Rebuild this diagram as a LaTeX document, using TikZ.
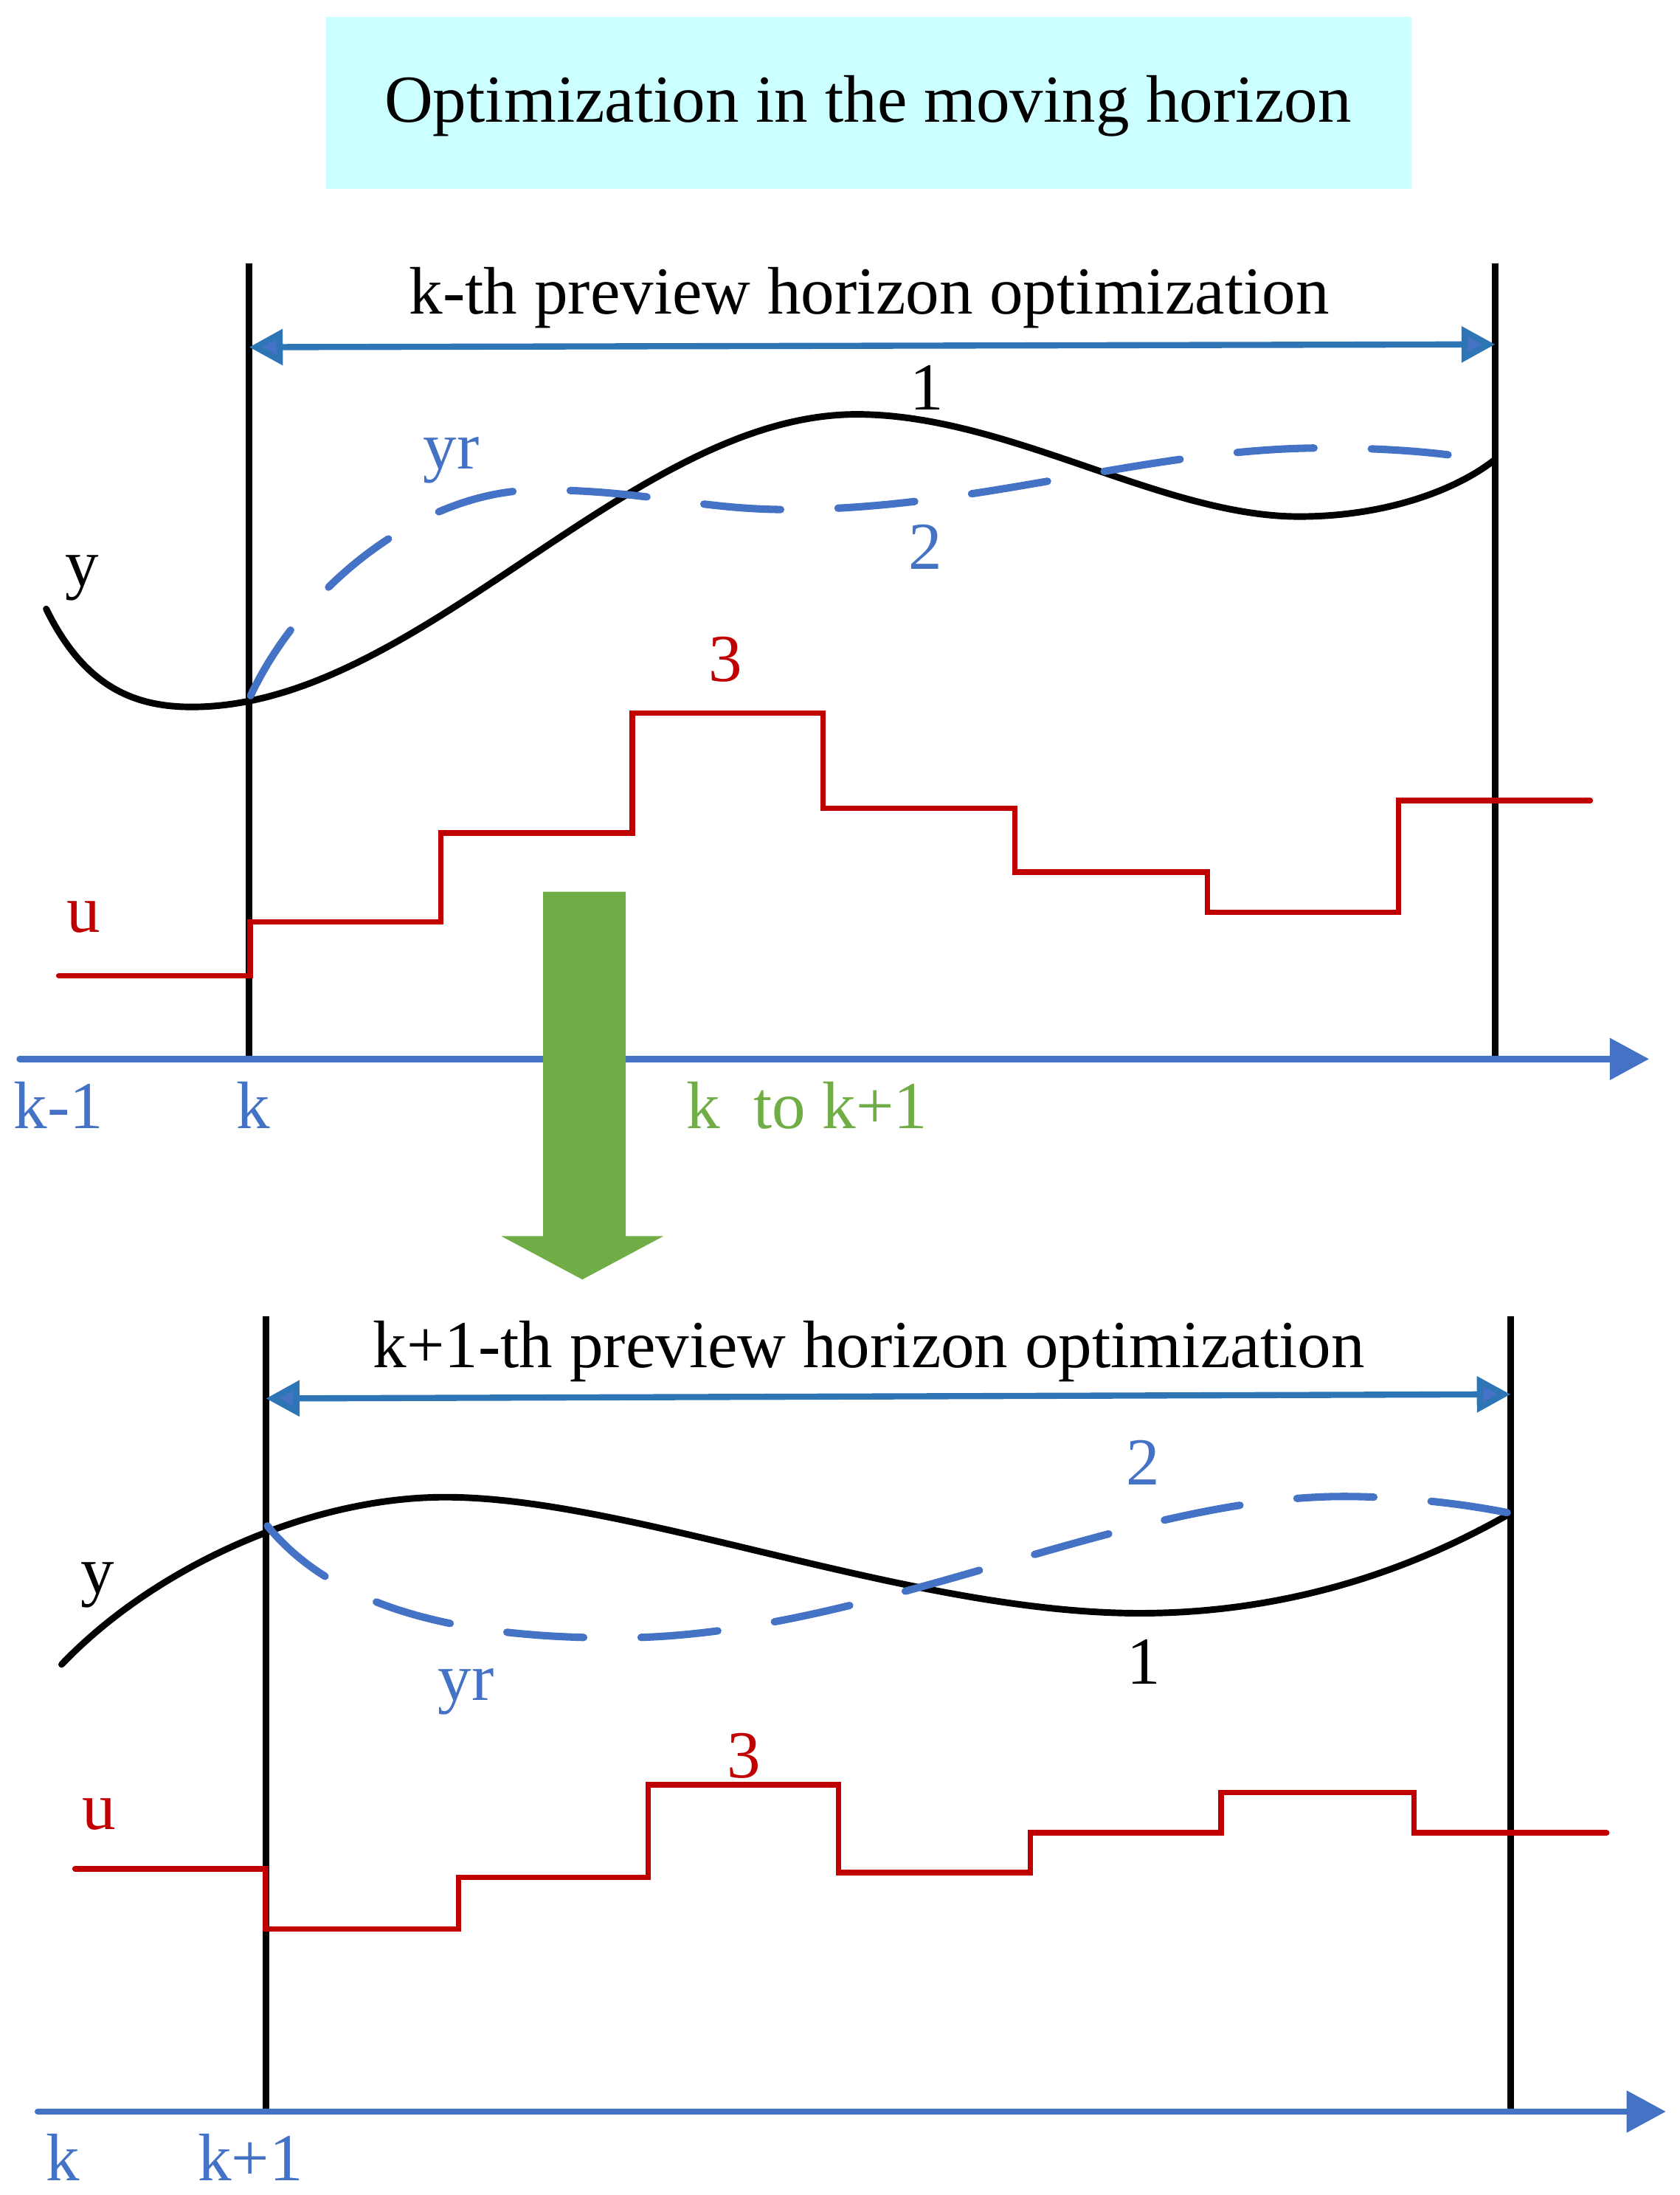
\documentclass[tikz,border=0pt]{standalone}
\usepackage{fontspec}
\setmainfont{Liberation Serif}
\usetikzlibrary{arrows.meta}
\definecolor{cyanbox}{HTML}{CCFFFF}
\definecolor{dblue}{HTML}{2E75B6}
\definecolor{mblue}{HTML}{4472C4}
\definecolor{dred}{HTML}{C00000}
\definecolor{mgreen}{HTML}{70AD47}
\tikzset{
  lbl/.style={font=\fontsize{48}{56}\selectfont, inner sep=0pt, anchor=base},
  ycurve/.style={line width=4.7pt, black, line cap=round},
  yref/.style={line width=5.3pt, mblue, line cap=round, dash pattern=on 55pt off 41pt},
  ustep/.style={line width=4pt, dred, line cap=round, line join=miter},
  bound/.style={line width=4.5pt, black},
  timeaxis/.style={line width=4.5pt, mblue, line cap=round, -{Triangle[length=28pt,width=29pt]}},
  horiz/.style={line width=4.4pt, dblue, line join=round, {Triangle[length=24pt,width=25pt,fill=mblue]}-{Triangle[length=24pt,width=25pt,fill=mblue]}},
}
\begin{document}
\begin{tikzpicture}[x=1pt, y=-1pt]
\useasboundingbox (0,0) rectangle (1200,1568);

% title
\fill[cyanbox] (233,12) rectangle (1008,135);
\node[lbl] (title) at (620,87) {Optimization in the moving horizon};

% ===== top panel =====
\coordinate (tLtop) at (178,188); \coordinate (tLbot) at (178,756);
\coordinate (tRtop) at (1068,188); \coordinate (tRbot) at (1068,756);
\draw[bound] (tLtop) -- (tLbot);
\draw[bound] (tRtop) -- (tRbot);
\coordinate (tAL) at (178,248); \coordinate (tAR) at (1068,246);
\draw[horiz] (tAL) -- (tAR);
\node[lbl] (ttext) at (621,224.5) {k-th preview horizon optimization};

\draw[ycurve] (33,435) .. controls (60,490) and (95,505) .. (137,505)
  .. controls (300,505) and (450,296) .. (612,296)
  .. controls (720,296) and (830,369) .. (928,369)
  .. controls (990,369) and (1040,350) .. (1067,329);
\draw[yref] (179,497) .. controls (215,420) and (300,350) .. (385,350)
  .. controls (460,350) and (500,364) .. (562,364)
  .. controls (700,364) and (820,320) .. (946,320)
  .. controls (980,320) and (1015,322) .. (1043,326);

\draw[ustep] (42,697) -- (178.6,697) -- (178.6,658.5) -- (315,658.5) -- (315,595) -- (451.6,595) -- (451.6,509.5) -- (588,509.5) -- (588,577.4) -- (725,577.4) -- (725,623) -- (862.5,623) -- (862.5,651.6) -- (999,651.6) -- (999,571.8) -- (1136,571.8);

\node[lbl] (ty) at (58.5,419) {y};
\node[lbl, text=mblue] (tyr) at (322.5,335) {yr};
\node[lbl] (t1) at (662,292.7) {1};
\node[lbl, text=mblue] (t2) at (661,406.4) {2};
\node[lbl, text=dred] (t3) at (518,486.8) {3};
\node[lbl, text=dred] (tu) at (59.7,666) {u};

\coordinate (tax0) at (14,756.5); \coordinate (tax1) at (1178,756.5);
\draw[timeaxis] (tax0) -- (tax1);
\node[lbl, text=mblue] (tkm1) at (42,806) {k-1};
\node[lbl, text=mblue] (tk) at (181,806) {k};
\node[lbl, text=mgreen] (tkk) at (576.5,806) {k\ \ to k+1};

% green shift arrow
\fill[mgreen] (388,637) -- (447,637) -- (447,883) -- (474,883) -- (416,914) -- (358,883) -- (388,883) -- cycle;

% ===== bottom panel =====
\coordinate (bLtop) at (190,940); \coordinate (bLbot) at (190,1508);
\coordinate (bRtop) at (1079,940); \coordinate (bRbot) at (1079,1508);
\draw[bound] (bLtop) -- (bLbot);
\draw[bound] (bRtop) -- (bRbot);
\coordinate (bAL) at (190,999); \coordinate (bAR) at (1079,996);
\draw[horiz] (bAL) -- (bAR);
\node[lbl] (btext) at (620.7,977) {k+1-th preview horizon optimization};

\draw[ycurve] (44,1189) .. controls (110,1120) and (220,1069.5) .. (318,1069.5)
  .. controls (450,1069.5) and (650,1152.4) .. (814,1152.4)
  .. controls (930,1152.4) and (1020,1115) .. (1079,1081);
\draw[yref] (191,1090) .. controls (240,1150) and (330,1170) .. (440,1170)
  .. controls (620,1170) and (800,1069) .. (960,1069)
  .. controls (1000,1069) and (1045,1074) .. (1079,1081);

\draw[ustep] (53.6,1335) -- (189.7,1335) -- (189.7,1378) -- (327.5,1378) -- (327.5,1341) -- (463,1341) -- (463,1275) -- (599,1275) -- (599,1337.6) -- (736,1337.6) -- (736,1309.3) -- (872.2,1309.3) -- (872.2,1280.5) -- (1010,1280.5) -- (1010,1309.3) -- (1147.7,1309.3);

\node[lbl] (by) at (69.5,1138) {y};
\node[lbl, text=mblue] (byr) at (333,1214.7) {yr};
\node[lbl, text=mblue] (b2) at (816.5,1060.6) {2};
\node[lbl] (b1) at (817,1203) {1};
\node[lbl, text=dred] (b3) at (531.5,1270) {3};
\node[lbl, text=dred] (bu) at (70.8,1306.8) {u};

\coordinate (bax0) at (27,1508.4); \coordinate (bax1) at (1190,1508.4);
\draw[timeaxis] (bax0) -- (bax1);
\node[lbl, text=mblue] (bk) at (44.8,1557.8) {k};
\node[lbl, text=mblue] (bkp1) at (179,1557.8) {k+1};
\end{tikzpicture}
\end{document}
